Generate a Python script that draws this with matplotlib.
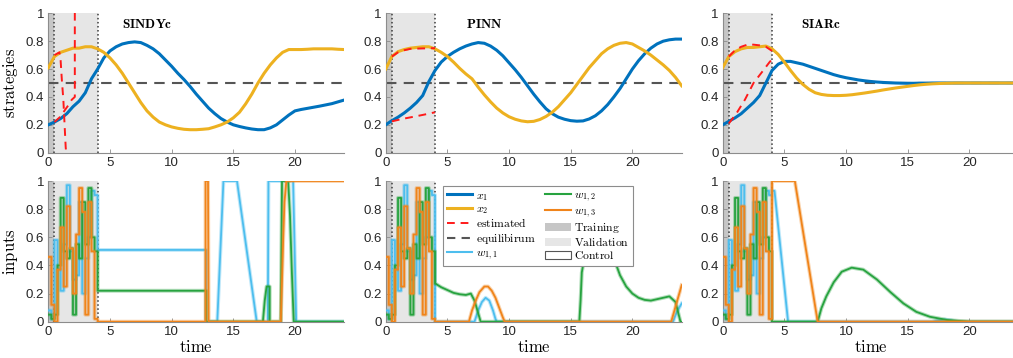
import numpy as np
import matplotlib
matplotlib.use("Agg")
import matplotlib.pyplot as plt
from matplotlib.lines import Line2D
from matplotlib.patches import Patch

plt.rcParams["font.family"] = ["Liberation Sans", "DejaVu Sans"]
plt.rcParams["mathtext.fontset"] = "cm"

# ======================
# Colours
# ======================
C_X1 = "#0072BD"
C_X2 = "#EDB120"
C_W11 = "#4DBEEE"
C_W12 = "#27A33F"
C_W13 = "#F0841A"
C_EST = "#FF1A1A"
C_EQ = "#555555"
C_TRAIN = "#c6c6c6"
C_VAL = "#e6e6e6"

# ======================
# State trajectories (strategies)
# ======================
t_state = [0, 0.5, 1, 1.5, 2, 2.5, 3, 3.5, 4, 4.5, 5, 5.5, 6, 6.5, 7, 7.5,
           8, 8.5, 9, 9.5, 10, 10.5, 11, 11.5, 12, 12.5, 13, 13.5, 14, 14.5,
           15, 15.5, 16, 16.5, 17, 17.5, 18, 18.5, 19, 19.5, 20, 20.5, 21,
           21.5, 22, 22.5, 23, 23.5, 24]

sindy_x1 = [0.20, 0.22, 0.245, 0.28, 0.33, 0.37, 0.43, 0.53, 0.60, 0.68, 0.73,
            0.76, 0.78, 0.79, 0.795, 0.79, 0.77, 0.745, 0.71, 0.665, 0.62,
            0.57, 0.525, 0.475, 0.42, 0.37, 0.32, 0.28, 0.245, 0.22, 0.20,
            0.188, 0.178, 0.17, 0.165, 0.165, 0.178, 0.20, 0.235, 0.27, 0.30,
            0.31, 0.318, 0.326, 0.334, 0.343, 0.352, 0.365, 0.378]
sindy_x2 = [0.61, 0.69, 0.72, 0.735, 0.75, 0.75, 0.76, 0.76, 0.745, 0.72,
            0.68, 0.63, 0.57, 0.50, 0.43, 0.36, 0.30, 0.255, 0.22, 0.20,
            0.185, 0.175, 0.168, 0.165, 0.165, 0.168, 0.172, 0.185, 0.20,
            0.22, 0.25, 0.29, 0.35, 0.42, 0.50, 0.57, 0.63, 0.68, 0.72, 0.74,
            0.74, 0.74, 0.742, 0.745, 0.745, 0.745, 0.745, 0.742, 0.74]

pinn_x1 = [0.20, 0.23, 0.255, 0.285, 0.32, 0.36, 0.41, 0.51, 0.59, 0.65, 0.69,
           0.72, 0.745, 0.765, 0.78, 0.79, 0.785, 0.765, 0.735, 0.695, 0.645,
           0.595, 0.54, 0.48, 0.42, 0.365, 0.315, 0.28, 0.255, 0.24, 0.23,
           0.226, 0.228, 0.242, 0.265, 0.30, 0.345, 0.40, 0.46, 0.53, 0.60,
           0.66, 0.71, 0.75, 0.78, 0.80, 0.81, 0.815, 0.815]
pinn_x2 = [0.60, 0.69, 0.725, 0.74, 0.75, 0.755, 0.76, 0.76, 0.745, 0.72,
           0.69, 0.65, 0.605, 0.565, 0.53, 0.47, 0.415, 0.365, 0.32, 0.285,
           0.258, 0.24, 0.228, 0.222, 0.225, 0.238, 0.26, 0.29, 0.33, 0.38,
           0.43, 0.49, 0.55, 0.61, 0.66, 0.71, 0.745, 0.77, 0.785, 0.79,
           0.78, 0.755, 0.73, 0.70, 0.665, 0.63, 0.59, 0.54, 0.48]

siar_x1 = [0.20, 0.225, 0.25, 0.28, 0.32, 0.36, 0.41, 0.50, 0.59, 0.635,
           0.655, 0.655, 0.645, 0.635, 0.62, 0.605, 0.59, 0.575, 0.56, 0.548,
           0.538, 0.53, 0.522, 0.516, 0.511, 0.507, 0.504, 0.502, 0.50, 0.499,
           0.498, 0.498, 0.499, 0.499, 0.50, 0.50, 0.50, 0.50, 0.50, 0.50,
           0.50, 0.50, 0.50, 0.50, 0.50, 0.50, 0.50, 0.50, 0.50]
siar_x2 = [0.61, 0.69, 0.725, 0.745, 0.755, 0.755, 0.76, 0.765, 0.745, 0.705,
           0.65, 0.59, 0.535, 0.49, 0.455, 0.43, 0.418, 0.412, 0.41, 0.41,
           0.412, 0.416, 0.422, 0.428, 0.435, 0.442, 0.45, 0.457, 0.464, 0.47,
           0.476, 0.482, 0.487, 0.491, 0.494, 0.496, 0.498, 0.499, 0.50, 0.50,
           0.50, 0.50, 0.50, 0.50, 0.50, 0.50, 0.50, 0.50, 0.50]

# estimated trajectories (red dashed)
sindy_est1_t = [0.5, 1.0, 1.3, 1.7, 1.9, 2.15, 2.15]
sindy_est1_v = [0.22, 0.26, 0.30, 0.35, 0.38, 0.40, 1.10]
sindy_est2_t = [0.5, 0.9, 1.0, 1.1, 1.22, 1.41, 1.5]
sindy_est2_v = [0.70, 0.72, 0.66, 0.52, 0.38, 0.04, -0.05]

pinn_est1_t = [0.5, 1.5, 2.5, 3.5, 4.0]
pinn_est1_v = [0.225, 0.245, 0.262, 0.28, 0.29]
pinn_est2_t = [0.5, 1.0, 1.5, 2.0, 3.0, 4.0]
pinn_est2_v = [0.69, 0.72, 0.735, 0.745, 0.748, 0.75]

siar_est1_t = [0.5, 1.1, 1.8, 2.5, 3.2, 3.8, 4.0]
siar_est1_v = [0.21, 0.28, 0.38, 0.50, 0.58, 0.65, 0.67]
siar_est2_t = [0.5, 1.0, 1.5, 2.0, 2.5, 3.0, 3.5, 4.0]
siar_est2_v = [0.69, 0.735, 0.76, 0.775, 0.775, 0.77, 0.76, 0.73]

# ======================
# Inputs: training/validation excitation (shared)
# ======================
ctrl_edges = [0, 0.25, 0.5, 0.75, 1.0, 1.25, 1.5, 1.75, 2.0, 2.25, 2.5, 2.75,
              3.0, 3.25, 3.5, 3.75, 4.0]
exc_w11 = [0.08, 0.02, 0.58, 0.38, 0.22, 0.55, 0.97, 0.50, 0.30, 0.33, 0.85,
           0.20, 0.45, 0.60, 0.93, 0.90]
exc_w12 = [0.05, 0.02, 0.05, 0.40, 0.88, 0.50, 0.45, 0.52, 0.05, 0.55, 0.45,
           0.85, 0.55, 0.95, 0.60, 0.50]
exc_w13 = [0.46, 0.12, 0.00, 0.37, 0.67, 0.25, 0.82, 0.52, 0.20, 0.62, 0.95,
           0.78, 0.05, 0.85, 0.50, 0.02]

# Inputs after t = 4, one set per controller
sindy_w11_t = [4, 12.8, 12.8, 13.7, 14.2, 15.3, 16.9, 17.8, 17.85, 19.85, 20.1, 24]
sindy_w11_v = [0.51, 0.51, 0, 0, 1, 1, 0, 0, 1, 1, 0, 0]
sindy_w12_t = [4, 12.8, 12.8, 17.4, 17.55, 17.7, 17.95, 17.95, 18.85, 18.95,
               19.45, 19.6, 19.75, 19.9, 24]
sindy_w12_v = [0.22, 0.22, 0, 0, 0.15, 0.25, 0.25, 0, 0, 1, 1, 0.75, 0.35, 0, 0]
sindy_w13_t = [4, 12.75, 12.75, 12.95, 13.0, 18.85, 18.95, 19.05, 19.15,
               19.3, 24]
sindy_w13_v = [0, 0, 1, 1, 0, 0, 0.3, 0.6, 0.85, 1, 1]

pinn_w11_t = [4, 7.2, 7.5, 7.8, 8.1, 8.4, 8.7, 8.9, 9.0, 23.3, 23.6, 24]
pinn_w11_v = [0, 0, 0.08, 0.14, 0.17, 0.15, 0.08, 0.02, 0, 0, 0.07, 0.13]
pinn_w12_t = [4, 4.05, 4.5, 5, 5.5, 6, 6.5, 6.9, 7.2, 7.5, 7.7, 15.7, 15.8,
              15.9, 16.2, 16.6, 17.0, 17.5, 18.0, 18.5, 19.0, 19.5, 20.0,
              20.5, 21.0, 21.5, 22.0, 22.5, 23.0, 23.5, 23.9, 24]
pinn_w12_v = [0.27, 0.27, 0.245, 0.225, 0.205, 0.195, 0.19, 0.20, 0.15, 0.06,
              0, 0, 0.15, 0.35, 0.50, 0.62, 0.68, 0.68, 0.60, 0.45, 0.33,
              0.25, 0.20, 0.17, 0.155, 0.15, 0.16, 0.17, 0.18, 0.14, 0, 0]
pinn_w13_t = [4, 6.75, 7.0, 7.3, 7.6, 8.0, 8.3, 8.6, 8.9, 9.2, 9.5, 9.65,
              23.15, 24]
pinn_w13_v = [0, 0, 0.08, 0.15, 0.21, 0.25, 0.25, 0.22, 0.17, 0.10, 0.03, 0,
              0, 0.26]

siar_w11_t = [4, 4.2, 5.3, 17.0, 17.5, 18.0, 18.5, 19.0, 24]
siar_w11_v = [0.93, 0.93, 0, 0, 0.01, 0.015, 0.01, 0, 0]
siar_w12_t = [4, 7.7, 8.0, 8.4, 9.0, 9.65, 10.46, 11.4, 12.5, 13.6, 14.65,
              15.7, 16.8, 18.2, 20.0, 24]
siar_w12_v = [0.0, 0.0, 0.095, 0.18, 0.28, 0.355, 0.384, 0.37, 0.30, 0.21,
              0.13, 0.07, 0.035, 0.012, 0.0, 0.0]
siar_w13_t = [4, 5.85, 7.7, 24]
siar_w13_v = [1, 1, 0, 0]

panels = [
    ("SINDYc", sindy_x1, sindy_x2,
     [(sindy_est1_t, sindy_est1_v), (sindy_est2_t, sindy_est2_v)],
     [(exc_w11, sindy_w11_t, sindy_w11_v, C_W11),
      (exc_w12, sindy_w12_t, sindy_w12_v, C_W12),
      (exc_w13, sindy_w13_t, sindy_w13_v, C_W13)]),
    ("PINN", pinn_x1, pinn_x2,
     [(pinn_est1_t, pinn_est1_v), (pinn_est2_t, pinn_est2_v)],
     [(exc_w11, pinn_w11_t, pinn_w11_v, C_W11),
      (exc_w12, pinn_w12_t, pinn_w12_v, C_W12),
      (exc_w13, pinn_w13_t, pinn_w13_v, C_W13)]),
    ("SIARc", siar_x1, siar_x2,
     [(siar_est1_t, siar_est1_v), (siar_est2_t, siar_est2_v)],
     [(exc_w11, siar_w11_t, siar_w11_v, C_W11),
      (exc_w12, siar_w12_t, siar_w12_v, C_W12),
      (exc_w13, siar_w13_t, siar_w13_v, C_W13)]),
]


def style_axes(ax):
    ax.set_xlim(0, 24)
    ax.set_ylim(0, 1)
    ax.set_xticks([0, 5, 10, 15, 20])
    ax.set_yticks([0, 0.2, 0.4, 0.6, 0.8, 1])
    ax.set_yticklabels(["0", "0.2", "0.4", "0.6", "0.8", "1"])
    for s in ["top", "right"]:
        ax.spines[s].set_visible(False)
    for s in ["left", "bottom"]:
        ax.spines[s].set_color("#8c8c8c")
        ax.spines[s].set_linewidth(0.8)
    ax.tick_params(direction="in", length=3, width=0.6, color="#8c8c8c",
                   labelsize=9.5, labelcolor="#262626", pad=3)
    ax.axvspan(0, 0.5, color=C_TRAIN, lw=0, zorder=0)
    ax.axvspan(0.5, 4, color=C_VAL, lw=0, zorder=0)
    ax.axvline(0.5, color="#3a3a3a", ls=":", lw=1.1, zorder=1)
    ax.axvline(4, color="#3a3a3a", ls=":", lw=1.1, zorder=1)


# ======================
# Figure
# ======================
W, H = 1013, 358
fig = plt.figure(figsize=(W / 100, H / 100), dpi=100)

lefts = [48.3, 385.7, 722.7]
width = 296

for i, (name, x1, x2, ests, inputs) in enumerate(panels):
    # ---- strategies ----
    ax = fig.add_axes([lefts[i] / W, (H - 152.7) / H, width / W, 139.4 / H])
    style_axes(ax)
    ax.axhline(0.5, color=C_EQ, ls=(0, (5, 3.5)), lw=1.5, zorder=2)
    ax.plot(t_state, x1, color=C_X1, lw=2.2, zorder=3)
    ax.plot(t_state, x2, color=C_X2, lw=2.2, zorder=3)
    for et, ev in ests:
        ax.plot(et, ev, color=C_EST, ls=(0, (4, 3)), lw=1.4, zorder=4)
    ax.text(8, 0.92, r"$\mathbf{" + name + "}$", ha="center", va="center",
            fontsize=9.5)
    if i == 0:
        ax.set_ylabel(r"$\mathrm{strategies}$", fontsize=12, labelpad=4)

    # ---- inputs ----
    ax = fig.add_axes([lefts[i] / W, (H - 321.7) / H, width / W, 140.7 / H])
    style_axes(ax)
    for exc, pt, pv, col in inputs:
        tt = np.concatenate([np.repeat(ctrl_edges, 2)[1:-1], pt])
        vv = np.concatenate([np.repeat(exc, 2), pv])
        ax.plot(tt, vv, color=col, lw=2.8, alpha=0.35, zorder=3)
        ax.plot(tt, vv, color=col, lw=1.3, zorder=3)
    ax.set_xlabel(r"$\mathrm{time}$", fontsize=12, labelpad=1)
    if i == 0:
        ax.set_ylabel(r"$\mathrm{inputs}$", fontsize=12, labelpad=4)

    if i == 1:
        handles = [
            Line2D([], [], color=C_X1, lw=2.2),
            Line2D([], [], color=C_X2, lw=2.2),
            Line2D([], [], color=C_EST, lw=1.4, ls=(0, (4, 3))),
            Line2D([], [], color=C_EQ, lw=1.5, ls=(0, (4, 3))),
            Line2D([], [], color=C_W11, lw=1.5),
            Line2D([], [], color=C_W12, lw=1.5),
            Line2D([], [], color=C_W13, lw=1.5),
            Patch(facecolor=C_TRAIN, edgecolor="none"),
            Patch(facecolor=C_VAL, edgecolor="none"),
            Patch(facecolor="white", edgecolor="#555555", lw=0.8),
        ]
        labels = [r"$x_1$", r"$x_2$", r"$\mathrm{estimated}$",
                  r"$\mathrm{equilibirum}$", r"$w_{1,1}$", r"$w_{1,2}$",
                  r"$w_{1,3}$", r"$\mathrm{Training}$",
                  r"$\mathrm{Validation}$", r"$\mathrm{Control}$"]
        leg = ax.legend(handles, labels, ncol=2, loc="upper left",
                        bbox_to_anchor=(0.194, 0.964), borderaxespad=0,
                        fontsize=8.4, fancybox=False, framealpha=1,
                        edgecolor="#8c8c8c", handlelength=2.2,
                        handleheight=0.7, labelspacing=0.08,
                        columnspacing=0.8, handletextpad=0.3,
                        borderpad=0.3)
        leg.get_frame().set_linewidth(0.8)
        leg.set_zorder(10)

plt.savefig("out.png", dpi=100)
